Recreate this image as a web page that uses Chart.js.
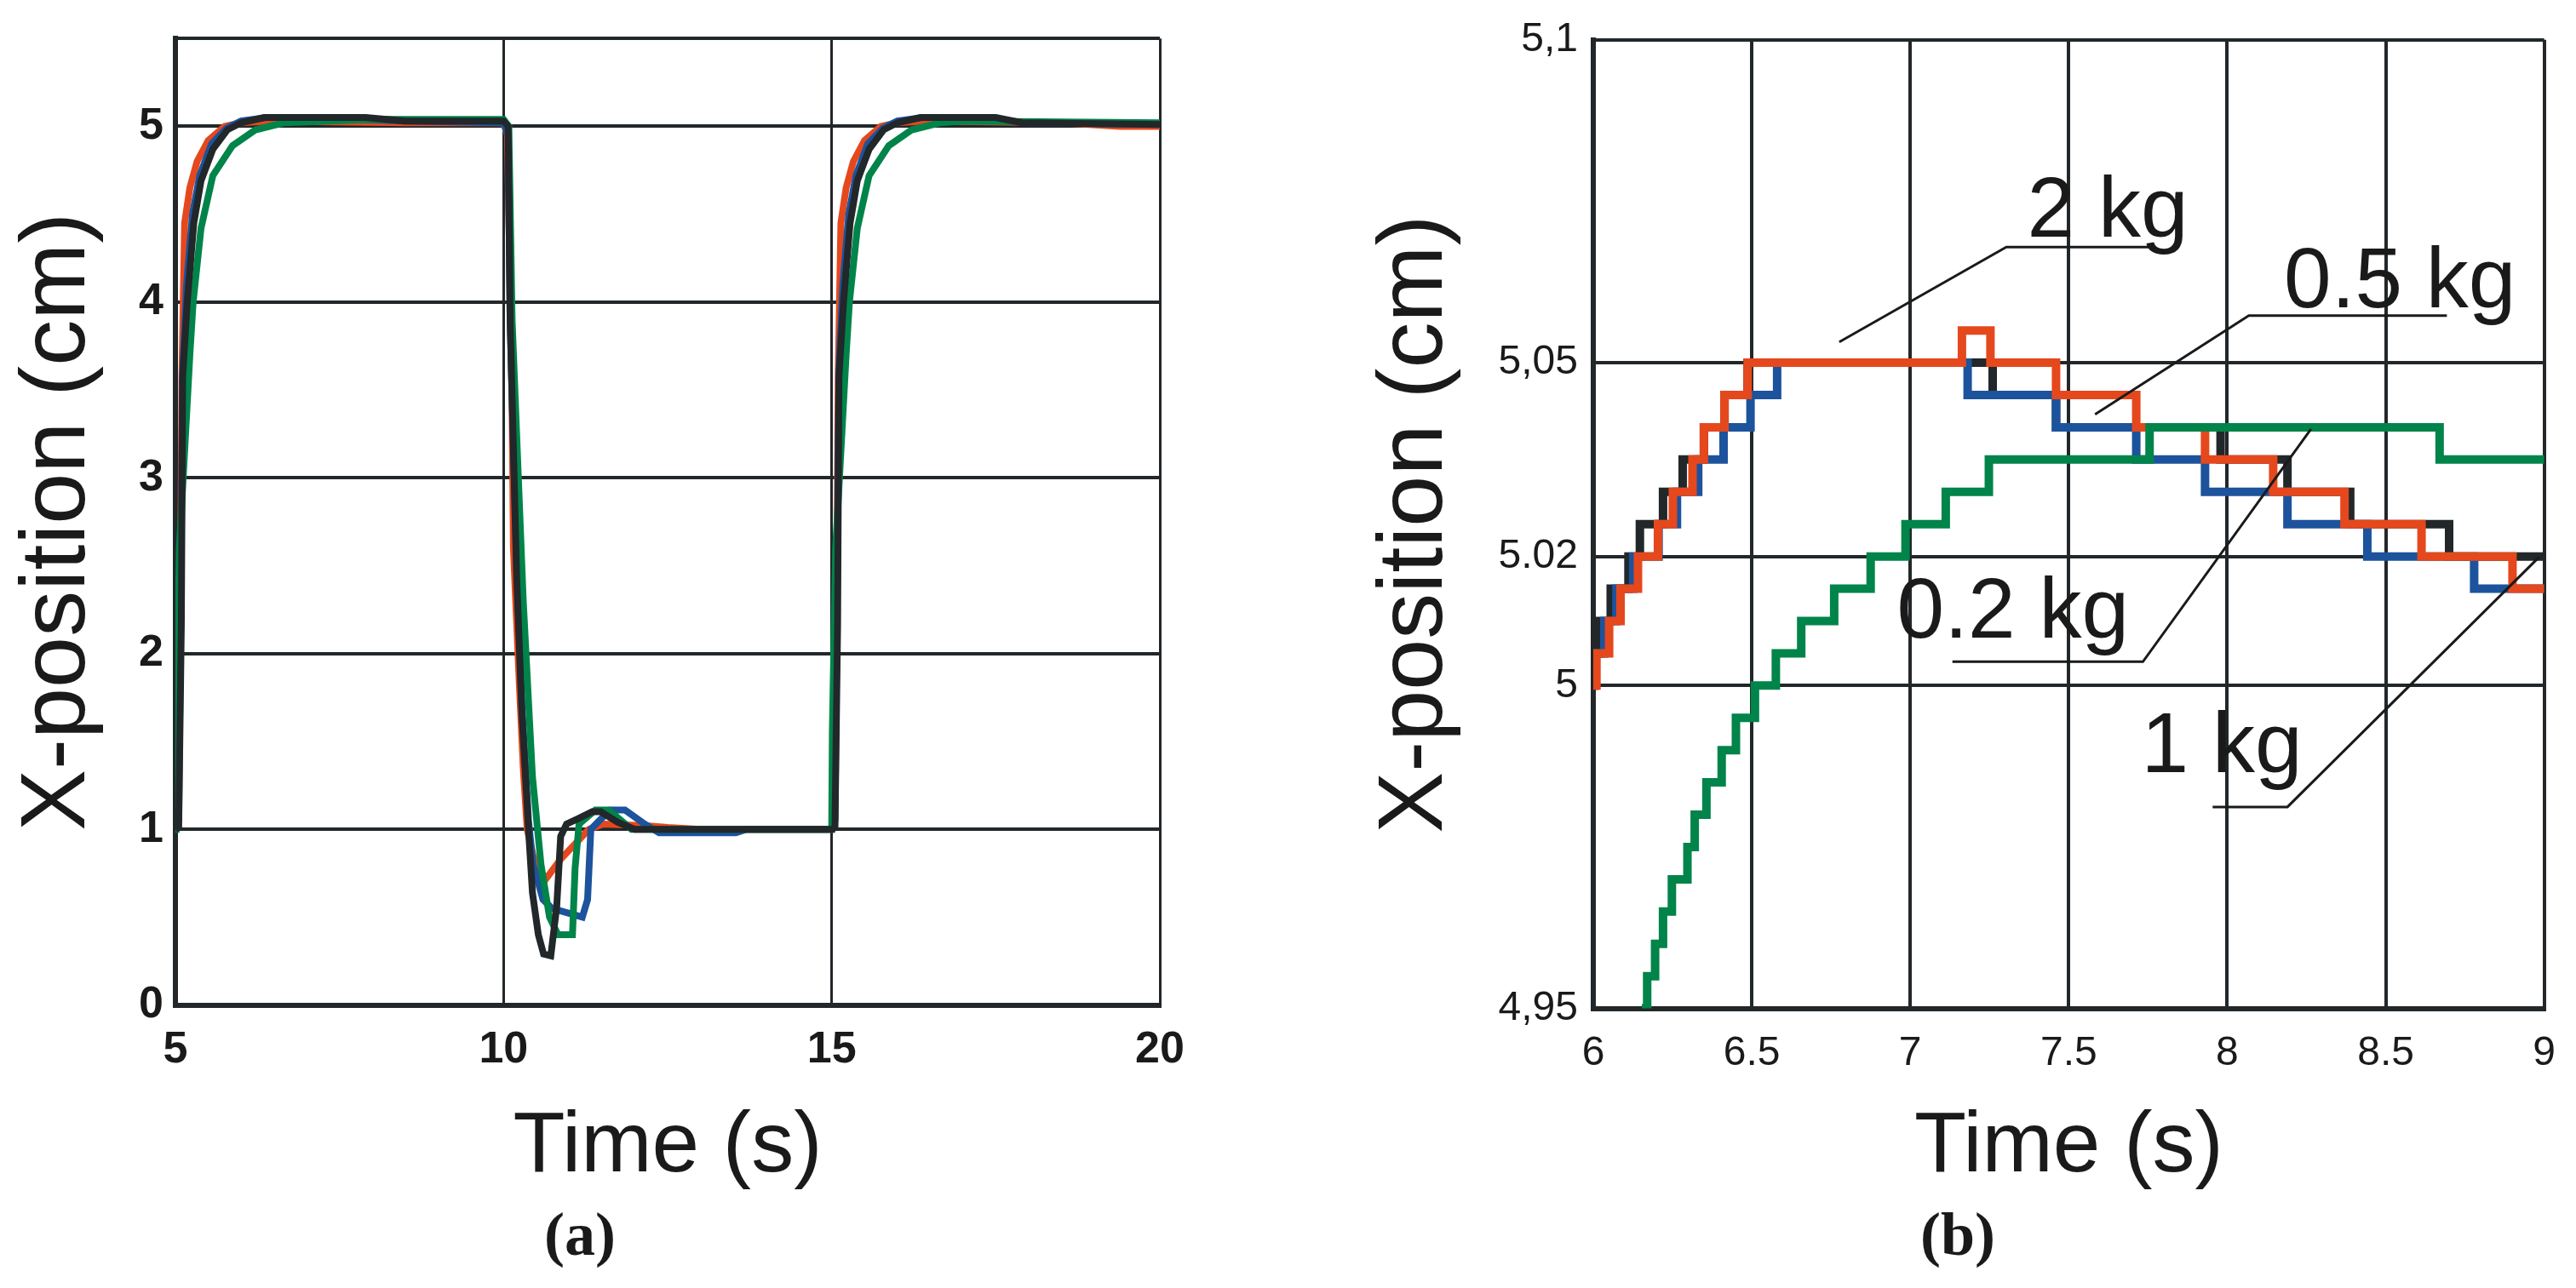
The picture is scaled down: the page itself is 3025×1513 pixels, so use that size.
<!DOCTYPE html>
<html lang="en">
<head>
<meta charset="UTF-8">
<title>X-position vs time</title>
<script src="https://cdn.jsdelivr.net/npm/chart.js"></script>
<style>
    html, body { margin: 0; padding: 0; background: #fff; }
    .panel { position: absolute; top: 0; height: 1513px; }
    #panel-a { left: 0; width: 1420px; }
    #panel-b { left: 1594px; width: 1431px; }
</style>
</head>
<body>
<div class="panel" id="panel-a"><canvas id="chart-a"></canvas></div>
<div class="panel" id="panel-b"><canvas id="chart-b"></canvas></div>
<script>
    // ---- panel (a): full response, 5..20 s ----
    const aYTicks = [0, 1, 2, 3, 4, 5, 5.5]
    const aXTicks = [5, 10, 15, 20]

    const aBlackT = [5, 5.05, 5.09, 5.11, 5.18, 5.28, 5.39, 5.57, 5.79, 6.0, 6.35, 7.9, 8.5, 10.0, 10.07, 10.1, 10.2, 10.28, 10.38, 10.44, 10.53, 10.61, 10.72, 10.81, 10.87, 10.96, 11.13, 11.35, 11.48, 11.74, 12.0, 15.0, 15.05, 15.09, 15.11, 15.18, 15.28, 15.39, 15.57, 15.79, 16.0, 16.35, 17.5, 17.9, 20]
    const aBlackV = [1.0, 1.01, 2.16, 3.57, 4.0, 4.45, 4.69, 4.87, 4.98, 5.02, 5.05, 5.05, 5.03, 5.03, 5.0, 3.9, 2.43, 1.66, 1.0, 0.64, 0.4, 0.29, 0.28, 0.56, 0.96, 1.03, 1.06, 1.1, 1.1, 1.04, 1.0, 1.0, 1.01, 2.16, 3.57, 4.0, 4.45, 4.69, 4.87, 4.98, 5.02, 5.05, 5.05, 5.02, 5.01]

    const aOrangeT = [5, 5.04, 5.07, 5.1, 5.14, 5.22, 5.33, 5.5, 5.75, 6.0, 6.4, 8.5, 10.0, 10.06, 10.13, 10.15, 10.24, 10.3, 10.36, 10.45, 10.61, 10.87, 11.3, 11.52, 12.17, 12.5, 13.0, 15.0, 15.04, 15.07, 15.1, 15.14, 15.22, 15.33, 15.5, 15.75, 16.0, 16.4, 18.5, 19.4, 20]
    const aOrangeV = [1.0, 1.2, 2.0, 3.6, 4.45, 4.65, 4.8, 4.92, 5.0, 5.02, 5.03, 5.02, 5.02, 4.95, 3.41, 2.6, 1.83, 1.35, 1.0, 0.85, 0.7, 0.83, 1.0, 1.03, 1.02, 1.01, 1.0, 1.0, 1.2, 2.0, 3.6, 4.45, 4.65, 4.8, 4.92, 5.0, 5.02, 5.03, 5.02, 5.0, 5.0]

    const aBlueT = [5, 5.05, 5.08, 5.11, 5.17, 5.26, 5.37, 5.55, 5.78, 6.0, 6.4, 7.0, 8.5, 10.0, 10.07, 10.1, 10.2, 10.28, 10.38, 10.45, 10.6, 10.74, 11.2, 11.28, 11.33, 11.46, 11.63, 11.85, 12.15, 12.37, 13.54, 13.7, 15.0, 15.05, 15.08, 15.11, 15.17, 15.26, 15.37, 15.55, 15.78, 16.0, 16.4, 17.0, 18.0, 20]
    const aBlueV = [1.0, 1.05, 2.2, 3.6, 4.1, 4.5, 4.72, 4.9, 4.99, 5.03, 5.05, 5.05, 5.03, 5.02, 4.95, 3.9, 2.5, 1.7, 1.05, 0.8, 0.6, 0.55, 0.5, 0.6, 1.0, 1.05, 1.11, 1.11, 1.03, 0.98, 0.98, 1.0, 1.0, 1.05, 2.2, 3.6, 4.1, 4.5, 4.72, 4.9, 4.99, 5.03, 5.05, 5.05, 5.02, 5.01]

    const aGreenT = [5, 5.01, 5.06, 5.22, 5.27, 5.39, 5.57, 5.87, 6.22, 6.65, 8.0, 10.0, 10.08, 10.13, 10.3, 10.44, 10.57, 10.7, 10.83, 11.05, 11.09, 11.15, 11.4, 11.6, 11.95, 15.0, 15.01, 15.06, 15.22, 15.27, 15.39, 15.57, 15.87, 16.22, 16.65, 17.0, 20]
    const aGreenV = [1.0, 1.56, 2.6, 3.7, 4.0, 4.42, 4.72, 4.89, 4.98, 5.02, 5.04, 5.04, 5.0, 3.9, 2.3, 1.3, 0.8, 0.5, 0.4, 0.4, 0.78, 1.03, 1.11, 1.11, 1.0, 1.0, 1.56, 2.6, 3.7, 4.0, 4.42, 4.72, 4.89, 4.98, 5.02, 5.03, 5.02]

    // ---- panel (b): zoom on 6..9 s ----
    const bYTicks = [4.95, 5, 5.02, 5.05, 5.1]
    const bYLabels = ['4,95', '5', '5.02', '5,05', '5,1']
    const bXTicks = [6, 6.5, 7, 7.5, 8, 8.5, 9]

    const bOrangeT = [6.0, 6.01, 6.05, 6.086, 6.141, 6.204, 6.251, 6.313, 6.349, 6.414, 6.487, 7.163, 7.253, 7.46, 7.713, 7.93, 8.145, 8.37, 8.613, 8.9, 9.0]
    const bOrangeV = [5.0, 5.005, 5.01, 5.015, 5.02, 5.025, 5.03, 5.035, 5.04, 5.045, 5.05, 5.055, 5.05, 5.045, 5.04, 5.035, 5.03, 5.025, 5.02, 5.015, 5.015]

    const bBlueT = [6.0, 6.002, 6.035, 6.073, 6.126, 6.206, 6.264, 6.331, 6.411, 6.496, 6.58, 7.181, 7.46, 7.713, 7.93, 8.19, 8.442, 8.779, 9.0]
    const bBlueV = [5.0, 5.005, 5.01, 5.015, 5.02, 5.025, 5.03, 5.035, 5.04, 5.045, 5.05, 5.045, 5.04, 5.035, 5.03, 5.025, 5.02, 5.015, 5.015]

    const bBlackT = [6.0, 6.005, 6.02, 6.055, 6.111, 6.147, 6.22, 6.282, 6.349, 6.414, 6.487, 7.26, 7.46, 7.979, 8.19, 8.388, 8.70, 9.0]
    const bBlackV = [5.0, 5.005, 5.01, 5.015, 5.02, 5.025, 5.03, 5.035, 5.04, 5.045, 5.05, 5.045, 5.04, 5.035, 5.03, 5.025, 5.02, 5.02]

    const bGreenT = [6.153, 6.17, 6.195, 6.22, 6.248, 6.297, 6.32, 6.357, 6.405, 6.45, 6.51, 6.576, 6.656, 6.76, 6.875, 6.985, 7.112, 7.248, 7.755, 8.67, 9.0]
    const bGreenV = [4.95, 4.955, 4.96, 4.965, 4.97, 4.975, 4.98, 4.985, 4.99, 4.995, 5.0, 5.005, 5.01, 5.015, 5.02, 5.025, 5.03, 5.035, 5.04, 5.035, 5.035]

    // mass labels: text anchor, underline ends, leader end (data units)
    const calloutText = ['2 kg', '0.5 kg', '0.2 kg', '1 kg']
    const calloutAt = [[7.369, 5.0695], [8.179, 5.0586], [6.958, 5.0074], [7.729, 4.9866]]
    const calloutLine = [[7.763, 7.303, 5.0679], [8.693, 8.068, 5.0573], [7.133, 7.734, 5.0037], [7.954, 8.19, 4.9812]]
    const calloutEnd = [[6.776, 5.0532], [7.583, 5.042], [8.264, 5.0397], [8.984, 5.0199]]

    const ORANGE = '#e5481d', BLUE = '#1c539c', GREEN = '#00844a', BLACK = '#22272a', GRID = '#22272a'
    const SANS = '"Liberation Sans", Arial, sans-serif'

    function pts(t, v) { return t.map((x, i) => ({x: x, y: v[i]})) }

    // stepped 'before': horizontal at the previous value, then vertical at the next time
    function line(t, v, color, width, stepped) {
        return {data: pts(t, v), borderColor: color, borderWidth: width, pointRadius: 0,
            fill: false, tension: 0, stepped: stepped ? 'before' : false}
    }

    const calloutPlugin = {
        id: 'callouts',
        afterDatasetsDraw(chart) {
            const ctx = chart.ctx, x = chart.scales.x, y = chart.scales.y
            ctx.save()
            ctx.strokeStyle = '#1a1a1a'
            ctx.lineWidth = 3
            ctx.fillStyle = '#1a1a1a'
            ctx.font = '100px ' + SANS
            ctx.textBaseline = 'alphabetic'
            calloutText.forEach((txt, i) => {
                const l = calloutLine[i]
                ctx.beginPath()
                ctx.moveTo(x.getPixelForValue(l[0]), y.getPixelForValue(l[2]))
                ctx.lineTo(x.getPixelForValue(l[1]), y.getPixelForValue(l[2]))
                ctx.lineTo(x.getPixelForValue(calloutEnd[i][0]), y.getPixelForValue(calloutEnd[i][1]))
                ctx.stroke()
                ctx.fillText(txt, x.getPixelForValue(calloutAt[i][0]), y.getPixelForValue(calloutAt[i][1]))
            })
            ctx.restore()
        }
    }

    function fixTicks(values) {
        return axis => { axis.ticks = values.map(v => ({value: v})) }
    }

    new Chart(document.getElementById('chart-a'), {
        type: 'line',
        data: {
            datasets: [
                line(aBlackT, aBlackV, BLACK, 8),
                line(aGreenT, aGreenV, GREEN, 8),
                line(aBlueT, aBlueV, BLUE, 8),
                line(aOrangeT, aOrangeV, ORANGE, 8),
            ]
        },
        options: {
            animation: false,
            responsive: true,
            maintainAspectRatio: false,
            devicePixelRatio: 1,
            layout: {padding: {left: 0, right: 58, top: 12, bottom: 0}},
            plugins: {
                legend: {display: false},
                tooltip: {enabled: false},
                title: {
                    display: true, position: 'bottom', text: '(a)', color: '#1a1a1a',
                    font: {family: '"Liberation Serif", serif', size: 72, weight: 'bold'},
                    padding: {top: 0, bottom: 14}
                }
            },
            scales: {
                x: {
                    type: 'linear', min: 5, max: 20,
                    afterBuildTicks: fixTicks(aXTicks),
                    afterFit: axis => { axis.height = 232 },
                    grid: {color: GRID, lineWidth: 3, drawTicks: false},
                    border: {color: GRID, width: 6},
                    ticks: {color: '#1a1a1a', padding: 22, maxRotation: 0,
                        font: {family: SANS, size: 52, weight: 'bold'}},
                    title: {display: true, text: 'Time (s)', color: '#1a1a1a',
                        font: {family: SANS, size: 100}, padding: {top: -18}}
                },
                y: {
                    type: 'linear', min: 0, max: 5.5,
                    afterBuildTicks: fixTicks(aYTicks),
                    afterFit: axis => { axis.width = 206 },
                    grid: {color: GRID, lineWidth: 4, drawTicks: false},
                    border: {color: GRID, width: 6},
                    ticks: {color: '#1a1a1a', padding: 14,
                        font: {family: SANS, size: 52, weight: 'bold'},
                        callback: v => v === 5.5 ? '' : v},
                    title: {display: true, text: 'X-position (cm)', color: '#1a1a1a',
                        font: {family: SANS, size: 108}, padding: {bottom: 0}}
                }
            }
        }
    })

    new Chart(document.getElementById('chart-b'), {
        type: 'line',
        data: {
            datasets: [
                line(bGreenT, bGreenV, GREEN, 10, true),
                line(bOrangeT, bOrangeV, ORANGE, 10, true),
                line(bBlueT, bBlueV, BLUE, 10, true),
                line(bBlackT, bBlackV, BLACK, 10, true),
            ]
        },
        options: {
            animation: false,
            responsive: true,
            maintainAspectRatio: false,
            devicePixelRatio: 1,
            layout: {padding: {left: 0, right: 21, top: 44, bottom: 0}},
            plugins: {
                legend: {display: false},
                tooltip: {enabled: false},
                title: {
                    display: true, position: 'bottom', text: '(b)', color: '#1a1a1a',
                    font: {family: '"Liberation Serif", serif', size: 72, weight: 'bold'},
                    padding: {top: 0, bottom: 14}
                }
            },
            scales: {
                x: {
                    type: 'linear', min: 6, max: 9,
                    afterBuildTicks: fixTicks(bXTicks),
                    afterFit: axis => { axis.height = 228 },
                    grid: {color: GRID, lineWidth: 4, drawTicks: false},
                    border: {color: GRID, width: 6},
                    ticks: {color: '#1a1a1a', padding: 24, maxRotation: 0,
                        font: {family: SANS, size: 48}, callback: v => String(v)},
                    title: {display: true, text: 'Time (s)', color: '#1a1a1a',
                        font: {family: SANS, size: 100}, padding: {top: -18}}
                },
                y: {
                    type: 'linear', min: 4.95, max: 5.1,
                    afterBuildTicks: fixTicks(bYTicks),
                    afterFit: axis => { axis.width = 277 },
                    grid: {color: GRID, lineWidth: 4, drawTicks: false},
                    border: {color: GRID, width: 6},
                    ticks: {color: '#1a1a1a', padding: 18,
                        font: {family: SANS, size: 48},
                        callback: v => bYLabels[bYTicks.indexOf(v)]},
                    title: {display: true, text: 'X-position (cm)', color: '#1a1a1a',
                        font: {family: SANS, size: 108}, padding: {bottom: 0}}
                }
            }
        },
        plugins: [calloutPlugin]
    })
</script>
</body>
</html>
